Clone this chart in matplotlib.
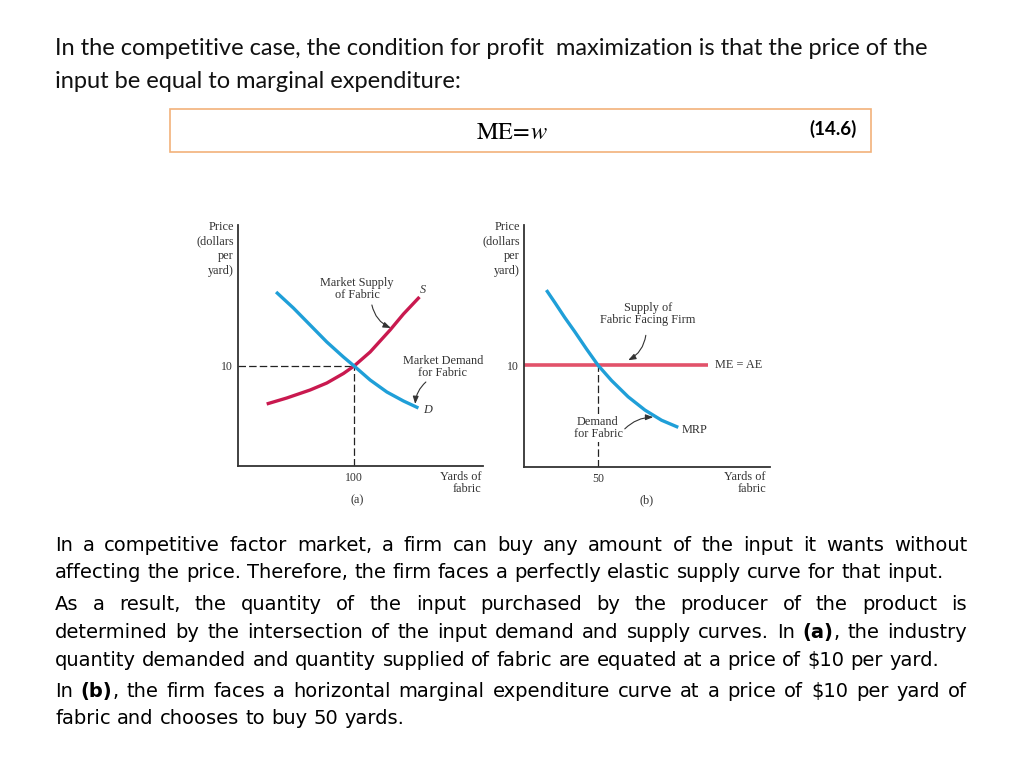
import matplotlib
matplotlib.use("Agg")
import matplotlib.pyplot as plt
from matplotlib.patches import Rectangle

W, H = 1024, 768

header_lines = ["In the competitive case, the condition for profit  maximization is that the price of the",
                "input be equal to marginal expenditure:"]
body_lines = ["In a competitive factor market, a firm can buy any amount of the input it wants without",
              "affecting the price. Therefore, the firm faces a perfectly elastic supply curve for that input.",
              "As a result, the quantity of the input purchased by the producer of the product is",
              "determined by the intersection of the input demand and supply curves.  In (a), the industry",
              "quantity demanded and quantity supplied of fabric are equated at a price of $10 per yard.",
              "In (b), the firm faces a horizontal marginal expenditure curve at a price of $10 per yard of",
              "fabric and chooses to buy 50 yards."]
body_justify = [True, False, True, True, False, True, False]
bold_words = ["(a)", "(b)"]

# panel (a): market for fabric
demand_a_x = [32.8, 47.7, 62.1, 76.5, 90.8, 100, 113.8, 128.2, 142.5, 155.4]
demand_a_y = [17.4, 15.8, 14.1, 12.4, 10.9, 10, 8.6, 7.4, 6.5, 5.8]
supply_a_x = [24.7, 42.0, 62.1, 76.5, 90.8, 100, 113.8, 131.0, 142.5, 156.3]
supply_a_y = [6.2, 6.8, 7.6, 8.3, 9.25, 10, 11.4, 13.6, 15.2, 16.9]
# panel (b): the firm
mrp_x = [15.1, 20.7, 27.5, 34.3, 42.2, 50, 59.1, 70.3, 81.6, 92.8, 104.1]
mrp_y = [17.4, 16.2, 14.7, 13.3, 11.6, 10, 8.5, 6.9, 5.6, 4.6, 3.9]
me_x = [0, 124.3]
me_y = [10, 10]
price_eq = 10
qty_a = 100
qty_b = 50

blue = "#1f9fd8"
red = "#c9194f"
pink = "#e2526a"
serif = "Liberation Serif"


def fx(x):
    return x / W


def fy(y):
    return 1 - y / H


fig = plt.figure(figsize=(W / 100, H / 100), dpi=100)
r = fig.canvas.get_renderer()


def width(s, size, family, weight="normal"):
    t = fig.text(0, 0, s, fontsize=size, family=family, weight=weight)
    w = t.get_window_extent(r).width
    t.remove()
    return w


# header text
hfam = "Lato"
hsize = 14 * 877 / width(header_lines[0], 14, hfam)
for line, yb in zip(header_lines, [55, 88]):
    fig.text(fx(55), fy(yb), line, fontsize=hsize, family=hfam, color="#111111", va="baseline")

# equation box
fig.patches.append(Rectangle((fx(170), fy(152)), (871 - 170) / W, (152 - 109) / H,
                             transform=fig.transFigure, fill=False, edgecolor="#f2b27a", lw=1.2))
plt.rcParams["mathtext.fontset"] = "stix"
fig.text(fx(512), fy(132), r"$\mathrm{ME}\!=\!w$", fontsize=17.5, ha="center", va="center")
fig.text(fx(833), fy(129), "(14.6)", fontsize=13.5, family=hfam, weight="bold", ha="center", va="center")

# body text, justified
bfam = "DejaVu Sans"
bsize = 14 * 893 / width(body_lines[1], 14, bfam)
space = width("a a", bsize, bfam) - width("aa", bsize, bfam)
left, right = 55, 967
for line, yb, just in zip(body_lines, [551, 578, 610, 638, 666, 697, 724], body_justify):
    words = line.split()
    parts = []
    for wd in words:
        segs = []
        for b in bold_words:
            if wd.startswith(b):
                segs = [(b, "bold"), (wd[len(b):], "normal")]
        if not segs:
            segs = [(wd, "normal")]
        segs = [(s, wt, width(s, bsize, bfam, wt) if s else 0) for s, wt in segs]
        parts.append(segs)
    total = sum(sum(s[2] for s in p) for p in parts)
    gap = (right - left - total) / (len(parts) - 1) if just else space
    x = left
    for p in parts:
        for s, wt, w in p:
            if s:
                fig.text(fx(x), fy(yb), s, fontsize=bsize, family=bfam, weight=wt, va="baseline")
            x += w
        x += gap


def setup(ax, xmax, ymax, xt):
    ax.set_xlim(0, xmax)
    ax.set_ylim(0, ymax)
    for s in ["top", "right"]:
        ax.spines[s].set_visible(False)
    for s in ["left", "bottom"]:
        ax.spines[s].set_linewidth(1.3)
        ax.spines[s].set_color("#333333")
    ax.set_xticks([xt])
    ax.set_yticks([price_eq])
    ax.tick_params(length=0, labelsize=8.5, pad=4)
    for lab in ax.get_xticklabels() + ax.get_yticklabels():
        lab.set_family(serif)
        lab.set_color("#333333")
    ax.patch.set_alpha(0)


arrow = dict(arrowstyle="-|>,head_length=0.45,head_width=0.17", color="#333333", lw=0.8,
             shrinkA=0, shrinkB=0)

# panel (a)
ax1 = fig.add_axes([fx(238), fy(466), (483 - 238) / W, (466 - 225) / H])
setup(ax1, 211, 24.1, qty_a)
ax1.plot([0, qty_a], [price_eq, price_eq], color="#222222", lw=0.9, dashes=(6, 2.5))
ax1.plot([qty_a, qty_a], [0, price_eq], color="#222222", lw=0.9, dashes=(6, 2.5))
ax1.plot(supply_a_x, supply_a_y, color=red, lw=2.4, solid_capstyle="butt", solid_joinstyle="round")
ax1.plot(demand_a_x, demand_a_y, color=blue, lw=2.4, solid_capstyle="butt", solid_joinstyle="round")
ax1.annotate("", xy=(131.6, 13.8), xytext=(115.3, 16.1),
             arrowprops=dict(arrow, connectionstyle="arc3,rad=0.25"))
ax1.annotate("", xy=(152.6, 6.2), xytext=(161.8, 8.4),
             arrowprops=dict(arrow, connectionstyle="arc3,rad=0.2"))

# panel (b)
ax2 = fig.add_axes([fx(524), fy(467), (770 - 524) / W, (467 - 225) / H])
setup(ax2, 166, 23.8, qty_b)
ax2.plot([qty_b, qty_b], [0, price_eq], color="#222222", lw=0.9, dashes=(6, 2.5))
ax2.plot(me_x, me_y, color=pink, lw=2.6, solid_capstyle="butt")
ax2.plot(mrp_x, mrp_y, color=blue, lw=2.4, solid_capstyle="butt", solid_joinstyle="round")
ax2.annotate("", xy=(70.3, 10.5), xytext=(82.2, 12.95),
             arrowprops=dict(arrow, connectionstyle="arc3,rad=-0.25"))
ax2.annotate("", xy=(87.2, 4.9), xytext=(68.0, 3.75),
             arrowprops=dict(arrow, connectionstyle="arc3,rad=-0.2"))

# graph labels
gs = 8.8
gc = "#333333"
price_lab = "Price\n(dollars\nper\nyard)"
for xr in [234, 520]:
    fig.text(fx(xr), fy(221), price_lab, fontsize=gs, family=serif, color=gc, ha="right", va="top",
             multialignment="right", linespacing=1.3)
for xr in [481, 766]:
    fig.text(fx(xr), fy(483), "Yards of\nfabric", fontsize=gs, family=serif, color=gc, ha="right", va="center",
             multialignment="right", linespacing=1.1)
fig.text(fx(357), fy(500), "(a)", fontsize=gs, family=serif, color=gc, ha="center", va="center")
fig.text(fx(647), fy(500), "(b)", fontsize=gs, family=serif, color=gc, ha="center", va="center")
fig.text(fx(357), fy(289), "Market Supply\nof Fabric", fontsize=gs, family=serif, color=gc,
         ha="center", va="center", linespacing=1.05)
fig.text(fx(423), fy(290), "S", fontsize=gs, family=serif, style="italic", color=gc, ha="center", va="center")
fig.text(fx(443), fy(367), "Market Demand\nfor Fabric", fontsize=gs, family=serif, color=gc,
         ha="center", va="center", linespacing=1.05)
fig.text(fx(428), fy(410), "D", fontsize=gs, family=serif, style="italic", color=gc, ha="center", va="center")
fig.text(fx(648), fy(314), "Supply of\nFabric Facing Firm", fontsize=gs, family=serif, color=gc,
         ha="center", va="center", linespacing=1.05)
fig.text(fx(715), fy(365), "ME = AE", fontsize=gs, family=serif, color=gc, ha="left", va="center")
fig.text(fx(598), fy(428), "Demand\nfor Fabric", fontsize=gs, family=serif, color=gc,
         ha="center", va="center", linespacing=1.05,
         bbox=dict(facecolor="white", edgecolor="none", pad=1))
fig.text(fx(682), fy(430), "MRP", fontsize=gs, family=serif, color=gc, ha="left", va="center")

fig.savefig("out.png", dpi=100)
